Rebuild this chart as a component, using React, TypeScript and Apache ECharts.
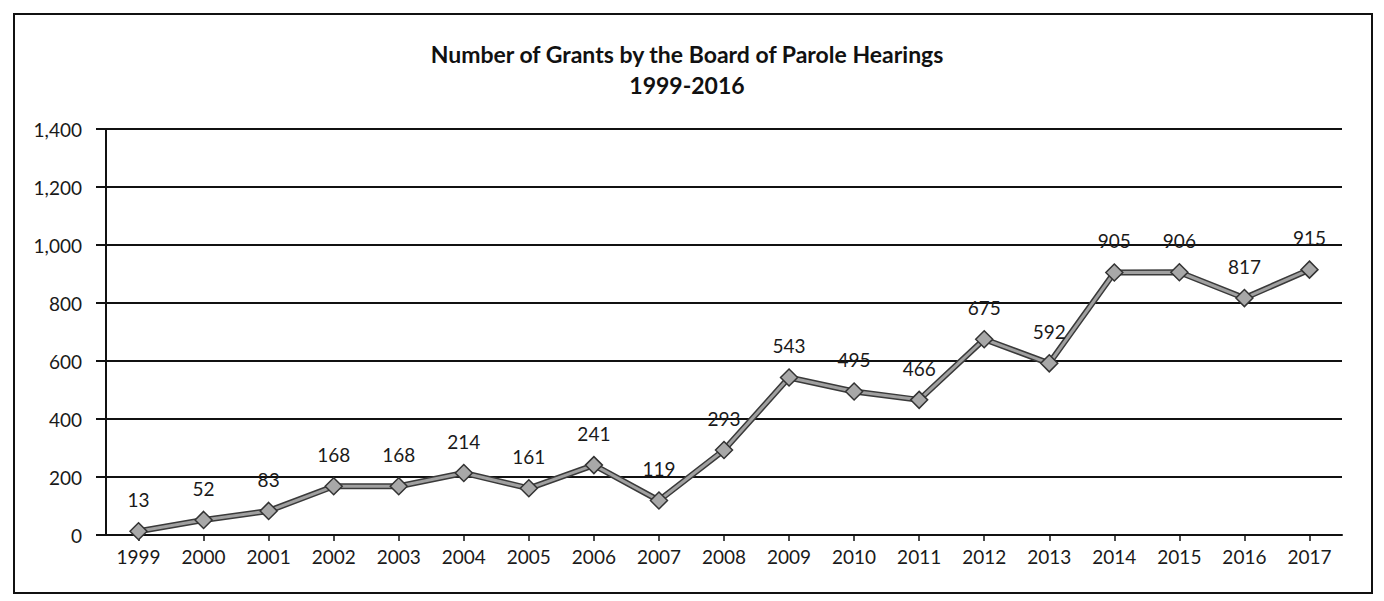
import React, { useEffect, useRef } from "react";
import * as echarts from "echarts";

const years = ["1999","2000","2001","2002","2003","2004","2005","2006","2007","2008","2009","2010","2011","2012","2013","2014","2015","2016","2017"];
const grants = [13, 52, 83, 168, 168, 214, 161, 241, 119, 293, 543, 495, 466, 675, 592, 905, 906, 817, 915];
const titleLines = ["Number of Grants by the Board of Parole Hearings", "1999-2016"];

const FONT = "Lato, 'Open Sans', sans-serif";

export default function App() {
  const ref = useRef<HTMLDivElement>(null);
  useEffect(() => {
    if (!ref.current) return;
    const chart = echarts.init(ref.current, undefined, { renderer: "svg" });
    chart.setOption({
      animation: false,
      backgroundColor: "#ffffff",
      title: {
        text: titleLines.join("\n"),
        left: 682,
        top: 33,
        textAlign: "center",
        textStyle: { fontFamily: FONT, fontSize: 23, fontWeight: "bold", color: "#111", lineHeight: 31 },
      },
      grid: { left: 106, right: 42, top: 129, bottom: 66 },
      xAxis: {
        type: "category",
        data: years,
        boundaryGap: true,
        axisLine: { lineStyle: { color: "#111", width: 2 } },
        axisTick: { show: true, alignWithLabel: true, length: 6, lineStyle: { color: "#111", width: 1.5 } },
        axisLabel: { fontFamily: FONT, fontSize: 19, color: "#1a1a1a", margin: 12 },
      },
      yAxis: {
        type: "value",
        min: 0,
        max: 1400,
        interval: 200,
        axisLine: { show: true, lineStyle: { color: "#111", width: 2 } },
        axisTick: { show: true, length: 10, lineStyle: { color: "#111", width: 2 } },
        splitLine: { lineStyle: { color: "#111", width: 2 } },
        axisLabel: {
          fontFamily: FONT,
          fontSize: 19,
          color: "#1a1a1a",
          margin: 24,
          formatter: (v: number) => v.toLocaleString("en-US"),
        },
      },
      series: [
        {
          type: "line",
          data: grants,
          symbol: "none",
          lineStyle: { color: "#3a3a3a", width: 6 },
          z: 2,
        },
        {
          type: "line",
          data: grants,
          symbol: "diamond",
          symbolSize: 17,
          itemStyle: { color: "#a8a8a8", borderColor: "#333", borderWidth: 1.5 },
          lineStyle: { color: "#a0a0a0", width: 3 },
          label: {
            show: true,
            position: "top",
            distance: 13,
            fontFamily: FONT,
            fontSize: 19,
            color: "#1a1a1a",
          },
          z: 3,
        },
      ],
    });
    return () => chart.dispose();
  }, []);
  return (
    <div style={{ position: "absolute", left: 0, top: 0, width: 1384, height: 601, background: "#fff" }}>
      <div ref={ref} style={{ position: "absolute", left: 0, top: 0, width: 1384, height: 601 }} />
      <div
        style={{
          position: "absolute",
          left: 13,
          top: 13,
          width: 1356,
          height: 577,
          border: "2px solid #111",
          pointerEvents: "none",
        }}
      />
    </div>
  );
}
